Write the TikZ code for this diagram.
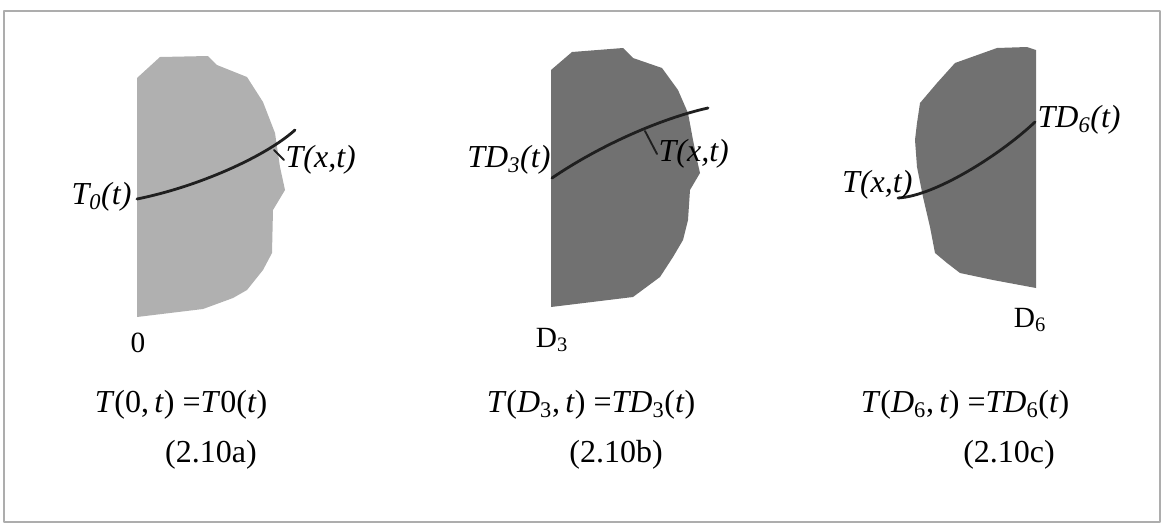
\documentclass[tikz,border=0pt]{standalone}
\usepackage{fontspec}
\setmainfont{Liberation Serif}
\definecolor{lightslab}{HTML}{B0B0B0}
\definecolor{darkslab}{HTML}{717171}
\definecolor{framegray}{HTML}{ADADAD}

\begin{document}
\begin{tikzpicture}[
  x=0.75pt,
  y=-0.75pt,
  line join=round,
  line cap=round,
  frame/.style={draw=framegray,line width=1.1pt},
  lightbody/.style={fill=lightslab,draw=none},
  darkbody/.style={fill=darkslab,draw=none},
  profile/.style={draw=black!88,line width=2.1pt},
  pointer/.style={draw=black!88,line width=1.4pt},
  curvelabel/.style={font=\fontsize{24}{26}\selectfont\itshape,inner sep=1pt},
  edgelabel/.style={font=\fontsize{22}{24}\selectfont,inner sep=0pt},
  eqn/.style={font=\fontsize{24}{26}\selectfont,inner sep=0pt},
  eqtag/.style={font=\fontsize{24}{26}\selectfont,inner sep=0pt}
]
  \useasboundingbox (0,0) rectangle (1163,526);
  \draw[frame] (4,11) rectangle (1160,522);

  % Slab a: boundary at x = 0 on the left.
  \path[lightbody] (137,78) -- (160,57) -- (208,56) -- (217,65) -- (247,77)
    -- (263,102) -- (275,133) -- (280,167) -- (285,190) -- (273,210)
    -- (272,253) -- (263,270) -- (247,290) -- (233,298) -- (203,309)
    -- (137,317) -- cycle;
  \coordinate (Astart) at (137,199);
  \coordinate (Aend) at (295,130);
  \coordinate (Atick) at (274,150);
  \draw[profile] (Astart) .. controls (197,187) and (265,157) .. (Aend);
  \node[curvelabel,anchor=east] (Aleft) at (133,197) {T\textsubscript{0}(t)};
  \node[curvelabel,anchor=west] (Aright) at (284,160) {T(x,t)};
  \draw[pointer] (Atick) -- (Aright.west);
  \node[edgelabel] (Aedge) at (138,343) {0};
  \node[eqn] (Aeq) at (181,405) {\textit{T}(0,\,\textit{t}) =\textit{T}0(\textit{t})};
  \node[eqtag] (Atag) at (211,455) {(2.10a)};

  % Slab b: boundary at D3 on the left.
  \path[darkbody] (551,70) -- (572,52) -- (623,48) -- (633,58) -- (662,68)
    -- (678,90) -- (688,113) -- (693,140) -- (697,160) -- (700,173)
    -- (690,190) -- (688,220) -- (683,240) -- (673,257) -- (660,277)
    -- (633,297) -- (551,307) -- cycle;
  \coordinate (Bstart) at (552,178);
  \coordinate (Bend) at (708,108);
  \coordinate (Btick) at (645,131);
  \draw[profile] (Bstart) .. controls (602,144) and (663,118) .. (Bend);
  \node[curvelabel,anchor=east] (Bleft) at (552,160) {TD\textsubscript{3}(t)};
  \node[curvelabel,anchor=west] (Bright) at (657,154) {T(x,t)};
  \draw[pointer] (Btick) -- (Bright.west);
  \node[edgelabel] (Bedge) at (552,340) {D\textsubscript{3}};
  \node[eqn] (Beq) at (591,405) {\textit{T}(\textit{D}\textsubscript{3},\,\textit{t}) =\textit{TD}\textsubscript{3}(\textit{t})};
  \node[eqtag] (Btag) at (616,455) {(2.10b)};

  % Slab c: boundary at D6 on the right.
  \path[darkbody] (1036,50) -- (1027,47) -- (997,48) -- (955,63) -- (937,83)
    -- (920,103) -- (917,123) -- (915,140) -- (917,167) -- (923,197)
    -- (930,227) -- (935,253) -- (947,263) -- (960,273) -- (993,280)
    -- (1036,288) -- cycle;
  \coordinate (Cstart) at (898,198);
  \coordinate (Cend) at (1035,122);
  \draw[profile] (Cstart) .. controls (935,196) and (1000,155) .. (Cend);
  \node[curvelabel,anchor=west] (Cright) at (1036,120) {TD\textsubscript{6}(t)};
  \node[curvelabel,anchor=east] (Cleft) at (914,185) {T(x,t)};
  \node[edgelabel] (Cedge) at (1030,320) {D\textsubscript{6}};
  \node[eqn] (Ceq) at (965,405) {\textit{T}(\textit{D}\textsubscript{6},\,\textit{t}) =\textit{TD}\textsubscript{6}(\textit{t})};
  \node[eqtag] (Ctag) at (1009,455) {(2.10c)};
\end{tikzpicture}
\end{document}
